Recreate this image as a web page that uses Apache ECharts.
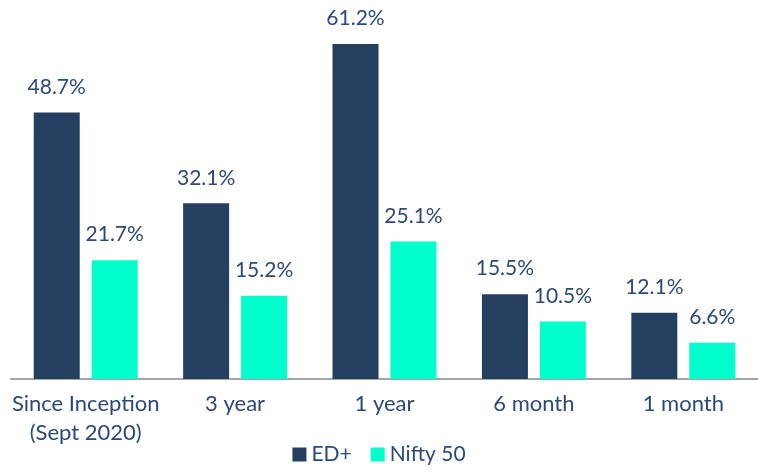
<!DOCTYPE html>
<html lang="en">
<head>
    <meta charset="UTF-8">
    <script src="https://cdn.jsdelivr.net/npm/echarts@6/dist/echarts.min.js"></script>
    <title>ED+ vs Nifty 50</title>
    <style>
        html, body { margin: 0; padding: 0; background: #fff; }
    </style>
</head>
<body>
    <div id="bar_1" style="width: 758px;height:473px;"></div>
    <script type="text/javascript">
        // periods on the x axis
        var periods = ['Since Inception\n(Sept 2020)', '3 year', '1 year', '6 month', '1 month'];
        // returns in %
        var edPlus = [48.7, 32.1, 61.2, 15.5, 12.1];
        var nifty50 = [21.7, 15.2, 25.1, 10.5, 6.6];

        var textBlue = '#2B4A78';
        var chart = echarts.init(document.getElementById('bar_1'));
        var labelStyle = {
            show: true,
            position: 'top',
            distance: 15,
            color: textBlue,
            fontFamily: 'Lato',
            fontSize: 21,
            formatter: function (p) { return p.value.toFixed(1) + '%'; }
        };
        var option = {
            animation: false,
            textStyle: { fontFamily: 'Lato' },
            grid: {
                left: 11,
                top: 44,
                width: 754,
                height: 335
            },
            legend: {
                bottom: 3,
                left: 'center',
                itemWidth: 14,
                itemHeight: 14,
                itemGap: 19,
                icon: 'rect',
                textStyle: { color: textBlue, fontSize: 21, fontFamily: 'Lato' },
                data: ['ED+', 'Nifty 50']
            },
            xAxis: {
                type: 'category',
                data: periods,
                axisTick: { show: false },
                axisLine: { lineStyle: { color: '#A6A6A6', width: 2 } },
                axisLabel: {
                    color: textBlue,
                    fontSize: 22,
                    fontFamily: 'Lato',
                    lineHeight: 29,
                    margin: 10,
                    interval: 0
                }
            },
            yAxis: {
                type: 'value',
                min: 0,
                max: 61.2,
                show: false
            },
            series: [
                {
                    name: 'ED+',
                    type: 'bar',
                    data: edPlus,
                    barWidth: 46,
                    barGap: '26%',
                    itemStyle: { color: '#253F61' },
                    label: labelStyle
                },
                {
                    name: 'Nifty 50',
                    type: 'bar',
                    data: nifty50,
                    barWidth: 46,
                    itemStyle: { color: '#00FFCC' },
                    label: labelStyle
                }
            ]
        };
        chart.setOption(option);
    </script>
</body>
</html>
